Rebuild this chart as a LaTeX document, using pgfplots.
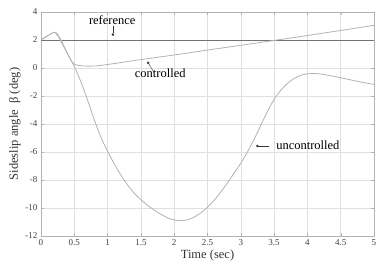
\documentclass[border=0pt]{standalone}
\usepackage{pgfplots}
\pgfplotsset{compat=1.18}
\usetikzlibrary{arrows.meta}
\usepackage{fontspec}
\setmainfont{Liberation Serif}
\begin{document}
\begin{tikzpicture}[x=1pt,y=1pt]
\begin{axis}[
  at={(41pt,28pt)}, anchor=south west,
  scale only axis, width=333pt, height=224pt,
  xmin=0, xmax=5, ymin=-12, ymax=4,
  xtick={0,0.5,...,5}, ytick={-12,-10,...,4},
  xticklabels={0,0.5,1,1.5,2,2.5,3,3.5,4,4.5,5},
  tick align=inside, tick pos=both,
  major tick length=3pt,
  grid=major, grid style={gray!25, line width=0.4pt},
  axis line style={gray!60},
  tick style={gray!60},
  /pgf/number format/assume math mode=true,
  ticklabel style={font=\fontsize{9}{10}\selectfont, text=black!75},
  xlabel={Time (sec)}, ylabel={Sideslip angle\ \ β (deg)},
  label style={font=\fontsize{12.5}{14}\selectfont, text=black!80},
  xlabel style={yshift=3pt},
  ylabel style={yshift=-2pt},
]
\addplot[black!55, line width=0.6pt] coordinates {(0,2) (5,2)};
\addplot[gray!60, line width=0.8pt, smooth] coordinates {
(0,2.0) (0.1,2.3) (0.2,2.55) (0.25,2.4) (0.3,2.0) (0.4,1.0) (0.48,0.35) (0.55,0.2) (0.66,0.14) (0.8,0.14) (1.0,0.25) (1.5,0.6) (2.0,0.93) (2.5,1.28) (3.0,1.62) (3.5,1.97) (4.0,2.32) (4.5,2.68) (5.0,3.05)};
\addplot[gray!60, line width=0.8pt, smooth] coordinates {
(0,2.0) (0.1,2.3) (0.2,2.55) (0.25,2.3) (0.3,1.9) (0.4,1.0) (0.5,0.1) (0.6,-1.0) (0.7,-2.3) (0.8,-3.7) (0.9,-4.95) (1.0,-5.95) (1.1,-6.85) (1.2,-7.65) (1.3,-8.35) (1.4,-8.95) (1.5,-9.4) (1.6,-9.8) (1.7,-10.15) (1.8,-10.45) (1.9,-10.7) (2.0,-10.85) (2.1,-10.9) (2.2,-10.85) (2.3,-10.65) (2.4,-10.35) (2.5,-9.95) (2.6,-9.45) (2.7,-8.85) (2.8,-8.2) (2.9,-7.5) (3.0,-6.8) (3.1,-6.0) (3.2,-5.1) (3.3,-4.1) (3.4,-3.1) (3.5,-2.25) (3.6,-1.6) (3.7,-1.1) (3.8,-0.75) (3.9,-0.52) (4.0,-0.42) (4.1,-0.4) (4.2,-0.43) (4.4,-0.6) (4.6,-0.8) (4.8,-1.0) (5.0,-1.17)};
\node[font=\fontsize{12.5}{14}\selectfont, anchor=base] at (axis cs:1.07,3.1) {reference};
\draw[-{Circle[length=2.5pt]}, black!80, line width=0.4pt] (axis cs:1.08,3.0) -- (axis cs:1.08,2.3);
\node[font=\fontsize{12.5}{14}\selectfont, anchor=base] at (axis cs:1.79,-0.65) {controlled};
\draw[-{Circle[length=2.5pt]}, black!80, line width=0.4pt] (axis cs:1.7,-0.35) -- (axis cs:1.6,0.45);
\node[font=\fontsize{12.5}{14}\selectfont, anchor=base west] at (axis cs:3.48,-5.85) {uncontrolled};
\draw[-{Circle[length=2.5pt]}, black!80, line width=0.4pt] (axis cs:3.42,-5.57) -- (axis cs:3.23,-5.57);
\end{axis}
\pgfresetboundingbox
\useasboundingbox (0,0) rectangle (376,264);
\end{tikzpicture}
\end{document}
